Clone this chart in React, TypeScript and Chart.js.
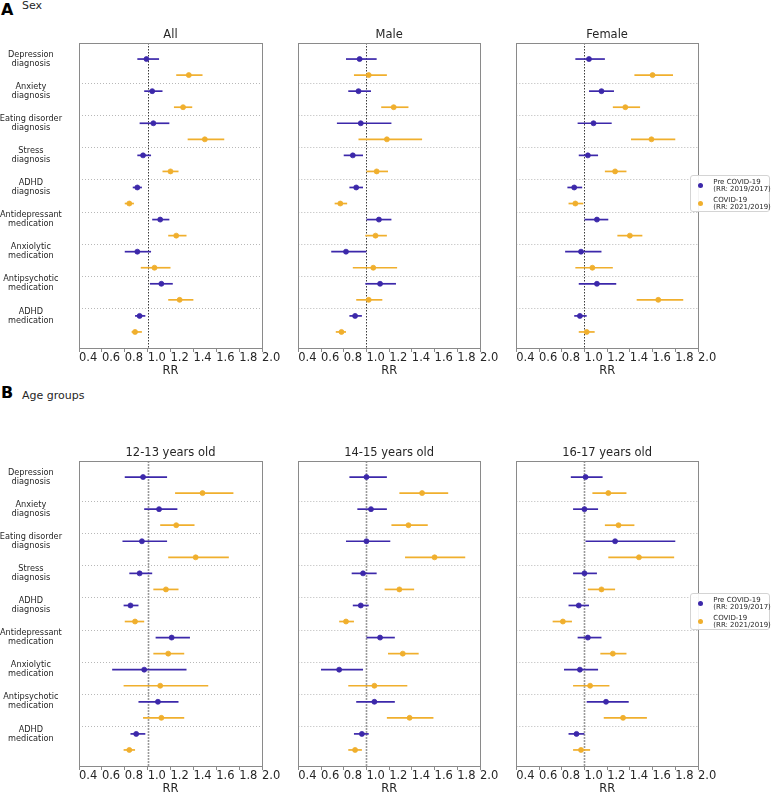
import React, { useEffect, useRef } from "react";
import { Chart, registerables } from "chart.js";

Chart.register(...registerables);

const FONT = '"DejaVu Sans", "Noto Sans", sans-serif';

// ---------- text ----------
const CATEGORIES: string[][] = [
  ["Depression", "diagnosis"],
  ["Anxiety", "diagnosis"],
  ["Eating disorder", "diagnosis"],
  ["Stress", "diagnosis"],
  ["ADHD", "diagnosis"],
  ["Antidepressant", "medication"],
  ["Anxiolytic", "medication"],
  ["Antipsychotic", "medication"],
  ["ADHD", "medication"],
];
const X_TICKS = [0.4, 0.6, 0.8, 1.0, 1.2, 1.4, 1.6, 1.8, 2.0];
const X_TITLE = "RR";
const SERIES_LABELS = ["Pre COVID-19", "COVID-19"];
const SERIES_NOTES = ["(RR: 2019/2017)", "(RR: 2021/2019)"];
const SECTION_LETTERS = ["A", "B"];
const SECTION_TITLES = ["Sex", "Age groups"];
const PANEL_TITLES = [
  ["All", "Male", "Female"],
  ["12-13 years old", "14-15 years old", "16-17 years old"],
];

// ---------- data (RR, lower CI, upper CI) ----------
const ALL_PRE_RR = [0.99, 1.04, 1.05, 0.96, 0.91, 1.11, 0.91, 1.12, 0.93];
const ALL_PRE_LO = [0.91, 0.97, 0.93, 0.91, 0.87, 1.04, 0.8, 1.02, 0.89];
const ALL_PRE_HI = [1.1, 1.13, 1.19, 1.03, 0.95, 1.19, 1.03, 1.22, 0.98];
const ALL_COV_RR = [1.36, 1.31, 1.5, 1.2, 0.84, 1.25, 1.06, 1.28, 0.89];
const ALL_COV_LO = [1.25, 1.23, 1.35, 1.13, 0.8, 1.18, 0.94, 1.18, 0.86];
const ALL_COV_HI = [1.48, 1.39, 1.67, 1.27, 0.88, 1.34, 1.2, 1.4, 0.95];

const MALE_PRE_RR = [0.94, 0.93, 0.95, 0.88, 0.91, 1.11, 0.82, 1.12, 0.9];
const MALE_PRE_LO = [0.82, 0.84, 0.74, 0.8, 0.85, 1.0, 0.69, 0.99, 0.85];
const MALE_PRE_HI = [1.09, 1.04, 1.22, 0.97, 0.97, 1.22, 1.0, 1.26, 0.96];
const MALE_COV_RR = [1.02, 1.24, 1.18, 1.09, 0.77, 1.08, 1.06, 1.02, 0.78];
const MALE_COV_LO = [0.89, 1.13, 0.93, 1.0, 0.72, 0.99, 0.88, 0.91, 0.73];
const MALE_COV_HI = [1.18, 1.37, 1.49, 1.19, 0.83, 1.18, 1.27, 1.14, 0.82];

const FEM_PRE_RR = [1.04, 1.15, 1.08, 1.03, 0.91, 1.11, 0.97, 1.11, 0.96];
const FEM_PRE_LO = [0.92, 1.04, 0.94, 0.95, 0.85, 1.0, 0.83, 0.95, 0.91];
const FEM_PRE_HI = [1.18, 1.26, 1.24, 1.12, 0.98, 1.21, 1.15, 1.28, 1.02];
const FEM_COV_RR = [1.6, 1.36, 1.59, 1.27, 0.92, 1.4, 1.07, 1.65, 1.02];
const FEM_COV_LO = [1.44, 1.25, 1.41, 1.18, 0.86, 1.29, 0.92, 1.46, 0.95];
const FEM_COV_HI = [1.78, 1.49, 1.8, 1.37, 0.99, 1.51, 1.25, 1.87, 1.09];

const A12_PRE_RR = [0.96, 1.1, 0.95, 0.93, 0.85, 1.21, 0.97, 1.09, 0.9];
const A12_PRE_LO = [0.8, 0.97, 0.78, 0.84, 0.79, 1.07, 0.69, 0.92, 0.85];
const A12_PRE_HI = [1.17, 1.26, 1.17, 1.04, 0.92, 1.37, 1.34, 1.27, 0.98];
const A12_COV_RR = [1.48, 1.25, 1.42, 1.16, 0.89, 1.18, 1.11, 1.12, 0.84];
const A12_COV_LO = [1.24, 1.11, 1.18, 1.05, 0.8, 1.05, 0.79, 0.96, 0.79];
const A12_COV_HI = [1.75, 1.41, 1.71, 1.27, 0.97, 1.32, 1.53, 1.32, 0.89];

const A14_PRE_RR = [1.0, 1.04, 1.0, 0.97, 0.95, 1.12, 0.76, 1.07, 0.96];
const A14_PRE_LO = [0.85, 0.92, 0.82, 0.87, 0.88, 1.0, 0.6, 0.91, 0.89];
const A14_PRE_HI = [1.18, 1.18, 1.21, 1.09, 1.02, 1.25, 0.97, 1.25, 1.02];
const A14_COV_RR = [1.49, 1.37, 1.6, 1.29, 0.82, 1.32, 1.07, 1.38, 0.9];
const A14_COV_LO = [1.29, 1.22, 1.34, 1.16, 0.76, 1.19, 0.84, 1.18, 0.84];
const A14_COV_HI = [1.72, 1.54, 1.87, 1.42, 0.89, 1.46, 1.36, 1.59, 0.96];

const A16_PRE_RR = [1.01, 1.0, 1.27, 1.0, 0.95, 1.03, 0.96, 1.19, 0.93];
const A16_PRE_LO = [0.88, 0.9, 1.01, 0.9, 0.86, 0.94, 0.82, 1.02, 0.86];
const A16_PRE_HI = [1.16, 1.12, 1.8, 1.11, 1.04, 1.15, 1.12, 1.39, 1.0];
const A16_COV_RR = [1.21, 1.3, 1.48, 1.15, 0.81, 1.25, 1.05, 1.34, 0.97];
const A16_COV_LO = [1.07, 1.18, 1.21, 1.03, 0.72, 1.14, 0.9, 1.17, 0.9];
const A16_COV_HI = [1.37, 1.44, 1.79, 1.27, 0.89, 1.37, 1.22, 1.55, 1.05];

const PANEL_DATA = [
  [
    { pre: [ALL_PRE_RR, ALL_PRE_LO, ALL_PRE_HI], cov: [ALL_COV_RR, ALL_COV_LO, ALL_COV_HI] },
    { pre: [MALE_PRE_RR, MALE_PRE_LO, MALE_PRE_HI], cov: [MALE_COV_RR, MALE_COV_LO, MALE_COV_HI] },
    { pre: [FEM_PRE_RR, FEM_PRE_LO, FEM_PRE_HI], cov: [FEM_COV_RR, FEM_COV_LO, FEM_COV_HI] },
  ],
  [
    { pre: [A12_PRE_RR, A12_PRE_LO, A12_PRE_HI], cov: [A12_COV_RR, A12_COV_LO, A12_COV_HI] },
    { pre: [A14_PRE_RR, A14_PRE_LO, A14_PRE_HI], cov: [A14_COV_RR, A14_COV_LO, A14_COV_HI] },
    { pre: [A16_PRE_RR, A16_PRE_LO, A16_PRE_HI], cov: [A16_COV_RR, A16_COV_LO, A16_COV_HI] },
  ],
];

// ---------- styling / layout ----------
const PURPLE = "#3c28aa";
const GOLD = "#f0af2d";
const SERIES_COLORS = [PURPLE, GOLD];
const FRAME_COLOR = "#8a8a8a";
const SEP_COLOR = "#b8b8b8";
const REF_STYLES = [
  { color: "#3a3a3a", width: 1, dash: [1.5, 1.5] },
  { color: "#9a9a9a", width: 1.6, dash: [2, 1] },
];
const TEXT_COLOR = "#262626";

const PLOT_LEFT = [79, 297, 515];
const PLOT_W = 183;
const PLOT_TOP = [43, 461];
const PLOT_H = 305;
const Y_AXIS_W = 79;
const PAD_T = 4;
const PAD_R = 24;
const TITLE_H = 15;
const X_AXIS_H = 30;

function ForestChart({ row, col }: { row: number; col: number }) {
  const ref = useRef<HTMLCanvasElement>(null);
  const yw = col === 0 ? Y_AXIS_W : 0;
  const padL = col === 0 ? 0 : 2;
  const left = PLOT_LEFT[col] - yw - padL;
  const top = PLOT_TOP[row] - TITLE_H - PAD_T;
  const width = yw + padL + PLOT_W + PAD_R;
  const height = PAD_T + TITLE_H + PLOT_H + X_AXIS_H;

  useEffect(() => {
    const d = PANEL_DATA[row][col];
    const ref1 = REF_STYLES[row];
    const series = [d.pre, d.cov];

    const forestPlugin = {
      id: "forest" + row + col,
      beforeDatasetsDraw(chart: any) {
        const { ctx, chartArea: a, scales } = chart;
        const x = scales.x;
        const y = scales.y;
        ctx.save();
        // group separators
        ctx.strokeStyle = SEP_COLOR;
        ctx.lineWidth = 1;
        ctx.setLineDash([1, 2]);
        for (let i = 0; i < CATEGORIES.length - 1; i++) {
          const py = Math.round(y.getPixelForValue(2 * i + 1.5)) + 0.5;
          ctx.beginPath();
          ctx.moveTo(a.left, py);
          ctx.lineTo(a.right, py);
          ctx.stroke();
        }
        // reference line at RR = 1
        const px = Math.round(x.getPixelForValue(1)) + 0.5;
        ctx.strokeStyle = ref1.color;
        ctx.lineWidth = ref1.width;
        ctx.setLineDash(ref1.dash);
        ctx.beginPath();
        ctx.moveTo(px, a.top);
        ctx.lineTo(px, a.bottom);
        ctx.stroke();
        // confidence intervals
        ctx.setLineDash([]);
        ctx.lineWidth = 1.7;
        series.forEach((s, k) => {
          ctx.strokeStyle = SERIES_COLORS[k];
          s[1].forEach((lo: number, i: number) => {
            const py = y.getPixelForValue(2 * i + k);
            ctx.beginPath();
            ctx.moveTo(x.getPixelForValue(lo), py);
            ctx.lineTo(x.getPixelForValue(s[2][i]), py);
            ctx.stroke();
          });
        });
        ctx.restore();
      },
      afterDatasetsDraw(chart: any) {
        const { ctx, chartArea: a } = chart;
        ctx.save();
        ctx.strokeStyle = FRAME_COLOR;
        ctx.lineWidth = 1;
        ctx.strokeRect(
          Math.round(a.left) + 0.5,
          Math.round(a.top) + 0.5,
          Math.round(a.right) - Math.round(a.left),
          Math.round(a.bottom) - Math.round(a.top)
        );
        ctx.restore();
      },
    };

    const chart = new Chart(ref.current as HTMLCanvasElement, {
      type: "scatter",
      data: {
        datasets: series.map((s, k) => ({
          label: SERIES_LABELS[k],
          data: s[0].map((v: number, i: number) => ({ x: v, y: 2 * i + k })),
          backgroundColor: SERIES_COLORS[k],
          borderColor: SERIES_COLORS[k],
          pointRadius: 2.5,
          pointHoverRadius: 2.5,
          pointBorderWidth: 0.8,
        })),
      },
      options: {
        responsive: false,
        animation: false,
        devicePixelRatio: 1,
        events: [],
        layout: { padding: { left: padL, right: PAD_R, top: PAD_T, bottom: 0 } },
        plugins: {
          legend: { display: false },
          tooltip: { enabled: false },
          title: {
            display: true,
            text: PANEL_TITLES[row][col],
            fullSize: false,
            color: TEXT_COLOR,
            font: { family: FONT, size: 11.5, weight: "normal", lineHeight: "14px" },
            padding: { top: 0, bottom: 1 },
          },
        },
        scales: {
          x: {
            type: "linear",
            min: X_TICKS[0],
            max: X_TICKS[X_TICKS.length - 1],
            afterBuildTicks: (s: any) => {
              s.ticks = X_TICKS.map((v) => ({ value: v }));
            },
            afterFit: (s: any) => {
              s.height = X_AXIS_H;
            },
            ticks: {
              autoSkip: false,
              maxRotation: 0,
              minRotation: 0,
              align: "start",
              padding: 0,
              color: TEXT_COLOR,
              font: { family: FONT, size: 11.5, lineHeight: "12px" },
              callback: (v: any) => Number(v).toFixed(1),
            },
            grid: {
              display: true,
              drawOnChartArea: false,
              drawTicks: true,
              tickLength: 4,
              color: FRAME_COLOR,
              tickColor: FRAME_COLOR,
            },
            border: { display: false },
            title: {
              display: true,
              text: X_TITLE,
              color: TEXT_COLOR,
              font: { family: FONT, size: 11.5, lineHeight: "14px" },
              padding: { top: 0, bottom: 0 },
            },
          },
          y: {
            type: "linear",
            reverse: true,
            min: -1,
            max: 18,
            display: col === 0,
            afterBuildTicks: (s: any) => {
              s.ticks = CATEGORIES.map((_c, i) => ({ value: 2 * i }));
            },
            afterFit: (s: any) => {
              s.width = yw;
            },
            ticks: {
              autoSkip: false,
              padding: 0,
              crossAlign: "center",
              color: TEXT_COLOR,
              font: { family: FONT, size: 8.2, lineHeight: 1.1 },
              callback: (_v: any, i: number) => CATEGORIES[i],
            },
            grid: {
              display: true,
              drawOnChartArea: false,
              drawTicks: true,
              tickLength: 17,
              color: "rgba(0,0,0,0)",
              tickColor: "rgba(0,0,0,0)",
            },
            border: { display: false },
          },
        },
      },
      plugins: [forestPlugin],
    } as any);
    return () => chart.destroy();
  }, [row, col]);

  return (
    <canvas
      ref={ref}
      width={width}
      height={height}
      style={{ position: "absolute", left, top, width, height }}
    />
  );
}

function Legend({ row }: { row: number }) {
  const top = PLOT_TOP[row] + 132;
  return (
    <div
      style={{
        position: "absolute",
        left: 690,
        top,
        width: 80,
        height: 37,
        boxSizing: "border-box",
        border: "1px solid #d4d4d4",
        borderRadius: 3,
        background: "rgba(255,255,255,0.9)",
        fontFamily: FONT,
        fontSize: 7,
        lineHeight: "7px",
        color: TEXT_COLOR,
      }}
    >
      {SERIES_LABELS.map((lab, k) => (
        <React.Fragment key={lab}>
          <div
            style={{
              position: "absolute",
              left: 10.7 - 2.7 - 1,
              top: 10.7 + 18 * k - 2.7 - 1,
              width: 5.4,
              height: 5.4,
              borderRadius: "50%",
              background: SERIES_COLORS[k],
            }}
          />
          <div
            style={{
              position: "absolute",
              left: 22.3,
              top: 2.8 + 18 * k,
              whiteSpace: "nowrap",
            }}
          >
            <div>{lab}</div>
            <div>{SERIES_NOTES[k]}</div>
          </div>
        </React.Fragment>
      ))}
    </div>
  );
}

export default function App() {
  useEffect(() => {
    document.body.style.margin = "0";
    document.documentElement.style.overflow = "hidden";
  }, []);
  const letterTops = [2, 385];
  const subTops = [0, 390];
  return (
    <div
      style={{
        position: "absolute",
        left: 0,
        top: 0,
        width: 774,
        height: 793,
        overflow: "hidden",
        background: "#ffffff",
        fontFamily: FONT,
      }}
    >
      {SECTION_LETTERS.map((L, r) => (
        <React.Fragment key={L}>
          <div
            style={{
              position: "absolute",
              left: 1,
              top: letterTops[r],
              fontSize: 16,
              lineHeight: "16px",
              fontWeight: "bold",
              color: "#000",
            }}
          >
            {L}
          </div>
          <div
            style={{
              position: "absolute",
              left: 22,
              top: subTops[r],
              fontSize: 11,
              lineHeight: "11px",
              color: TEXT_COLOR,
              whiteSpace: "nowrap",
            }}
          >
            {SECTION_TITLES[r]}
          </div>
        </React.Fragment>
      ))}
      {[0, 1].map((r) =>
        [0, 1, 2].map((c) => <ForestChart key={r + "-" + c} row={r} col={c} />)
      )}
      <Legend row={0} />
      <Legend row={1} />
    </div>
  );
}
